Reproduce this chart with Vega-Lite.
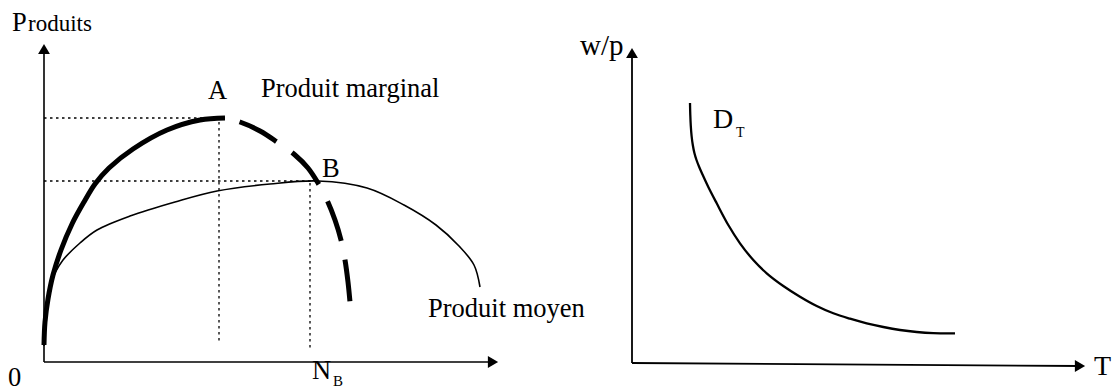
{
  "$schema": "https://vega.github.io/schema/vega-lite/v6.json",
  "background": "white",
  "padding": 0,
  "spacing": 0,
  "bounds": "flush",
  "config": {"view": {"stroke": null}, "axis": {"disable": true}, "concat": {"spacing": 0}},
  "datasets": {
    "axesL": [{"n": 0, "v": 0, "n2": 449, "v2": 0}, {"n": 0, "v": 0, "n2": 0, "v2": 313}],
    "arrowsL": [{"n": 449, "v": 0, "dir": "right"}, {"n": 0, "v": 313, "dir": "up"}],
    "guidesL": [
      {"n": 0, "v": 244, "n2": 178, "v2": 244},
      {"n": 175, "v": 240, "n2": 175, "v2": 19},
      {"n": 0, "v": 181, "n2": 274, "v2": 181},
      {"n": 266, "v": 179, "n2": 266, "v2": 12}
    ],
    "average": [
      {"n": 0, "v": 16}, {"n": 2, "v": 47}, {"n": 6, "v": 77}, {"n": 11, "v": 89},
      {"n": 19, "v": 102}, {"n": 36, "v": 119}, {"n": 53, "v": 132}, {"n": 86, "v": 146},
      {"n": 131, "v": 160}, {"n": 173, "v": 171}, {"n": 226, "v": 178}, {"n": 274, "v": 181},
      {"n": 323, "v": 174}, {"n": 360, "v": 157}, {"n": 392, "v": 137}, {"n": 415, "v": 116},
      {"n": 430, "v": 97}, {"n": 436, "v": 75}
    ],
    "mRise": [
      {"n": 0, "v": 17}, {"n": 1, "v": 40}, {"n": 4, "v": 63}, {"n": 9, "v": 87},
      {"n": 17, "v": 112}, {"n": 28, "v": 138}, {"n": 40, "v": 160}, {"n": 51, "v": 178},
      {"n": 65, "v": 194}, {"n": 89, "v": 213}, {"n": 123, "v": 232}, {"n": 156, "v": 242},
      {"n": 181, "v": 244}
    ],
    "mFall": [
      {"n": 181, "v": 244}, {"n": 196, "v": 240}, {"n": 216, "v": 231}, {"n": 233, "v": 220},
      {"n": 251, "v": 207}, {"n": 264, "v": 194}, {"n": 274, "v": 179}, {"n": 283, "v": 162},
      {"n": 291, "v": 142}, {"n": 297, "v": 122}, {"n": 301, "v": 102}, {"n": 304, "v": 80},
      {"n": 306, "v": 60}
    ],
    "textL": [
      {"t": "P", "n": -32, "v": 331}, {"t": "0", "n": -36, "v": -24}, {"t": "A", "n": 164, "v": 263},
      {"t": "Produit marginal", "n": 217, "v": 265}, {"t": "B", "n": 278, "v": 185},
      {"t": "Produit moyen", "n": 384, "v": 45}, {"t": "N", "n": 268, "v": -17}
    ],
    "textLmid": [{"t": "roduits", "n": -16, "v": 331}],
    "textLsub": [{"t": "B", "n": 289, "v": -24}],
    "axesR": [{"T": 0, "w": 0, "T2": 448, "w2": -3}, {"T": 0, "w": 0, "T2": 0, "w2": 310}],
    "arrowsR": [{"T": 448, "w": -3, "dir": "right"}, {"T": 0, "w": 310, "dir": "up"}],
    "demand": [
      {"T": 58, "w": 260}, {"T": 58.3, "w": 248}, {"T": 58.8, "w": 237}, {"T": 59.6, "w": 227},
      {"T": 60.8, "w": 218}, {"T": 62.4, "w": 210}, {"T": 64.5, "w": 203}, {"T": 67.2, "w": 196},
      {"T": 70.5, "w": 188.5}, {"T": 76.3, "w": 176}, {"T": 84.7, "w": 159.7},
      {"T": 96.3, "w": 138}, {"T": 108, "w": 119.7}, {"T": 121.3, "w": 103}, {"T": 134.7, "w": 89.7},
      {"T": 151.3, "w": 77}, {"T": 168, "w": 66.3}, {"T": 184.7, "w": 57}, {"T": 201.3, "w": 49.7},
      {"T": 218, "w": 44.3}, {"T": 234.7, "w": 39.7}, {"T": 251.3, "w": 36}, {"T": 268, "w": 33},
      {"T": 284.7, "w": 31}, {"T": 301.3, "w": 29.9}, {"T": 323, "w": 29.7}
    ],
    "textR": [{"t": "T", "T": 462, "w": -12}, {"t": "D", "T": 81, "w": 235}],
    "textRwp": [{"t": "w/p", "T": -52, "w": 308}],
    "textRsub": [{"t": "T", "T": 104, "w": 226}]
  },
  "hconcat": [
    {
      "width": 560,
      "height": 391,
      "encoding": {
        "x": {"field": "n", "type": "quantitative", "scale": {"domain": [-44, 516], "nice": false, "zero": false}},
        "y": {"field": "v", "type": "quantitative", "scale": {"domain": [-29, 362], "nice": false, "zero": false}}
      },
      "layer": [
        {"data": {"name": "axesL"}, "mark": {"type": "rule", "color": "black", "strokeWidth": 1.6},
         "encoding": {"x2": {"field": "n2"}, "y2": {"field": "v2"}}},
        {"data": {"name": "arrowsL"}, "mark": {"type": "point", "filled": true, "color": "black", "size": 140, "opacity": 1},
         "encoding": {"shape": {"field": "dir", "type": "nominal", "scale": {"domain": ["up", "right"], "range": ["triangle-up", "triangle-right"]}, "legend": null}}},
        {"data": {"name": "guidesL"}, "mark": {"type": "rule", "color": "black", "strokeWidth": 1.3, "strokeDash": [2.5, 3.5]},
         "encoding": {"x2": {"field": "n2"}, "y2": {"field": "v2"}}},
        {"data": {"name": "average"}, "mark": {"type": "line", "color": "black", "strokeWidth": 1.6, "interpolate": "catmull-rom"}},
        {"data": {"name": "mRise"}, "mark": {"type": "line", "color": "black", "strokeWidth": 5, "interpolate": "catmull-rom"}},
        {"data": {"name": "mFall"}, "mark": {"type": "line", "color": "black", "strokeWidth": 5, "interpolate": "catmull-rom", "strokeDash": [42, 19], "strokeDashOffset": 46}},
        {"data": {"name": "textL"}, "mark": {"type": "text", "font": "Liberation Serif", "fontSize": 26.5, "align": "left", "baseline": "alphabetic", "color": "black"},
         "encoding": {"text": {"field": "t"}}},
        {"data": {"name": "textLmid"}, "mark": {"type": "text", "font": "Liberation Serif", "fontSize": 23, "align": "left", "baseline": "alphabetic", "color": "black"},
         "encoding": {"text": {"field": "t"}}},
        {"data": {"name": "textLsub"}, "mark": {"type": "text", "font": "Liberation Serif", "fontSize": 15, "align": "left", "baseline": "alphabetic", "color": "black"},
         "encoding": {"text": {"field": "t"}}}
      ]
    },
    {
      "width": 553,
      "height": 391,
      "encoding": {
        "x": {"field": "T", "type": "quantitative", "scale": {"domain": [-72, 481], "nice": false, "zero": false}},
        "y": {"field": "w", "type": "quantitative", "scale": {"domain": [-28, 363], "nice": false, "zero": false}}
      },
      "layer": [
        {"data": {"name": "axesR"}, "mark": {"type": "rule", "color": "black", "strokeWidth": 1.8},
         "encoding": {"x2": {"field": "T2"}, "y2": {"field": "w2"}}},
        {"data": {"name": "arrowsR"}, "mark": {"type": "point", "filled": true, "color": "black", "size": 140, "opacity": 1},
         "encoding": {"shape": {"field": "dir", "type": "nominal", "scale": {"domain": ["up", "right"], "range": ["triangle-up", "triangle-right"]}, "legend": null}}},
        {"data": {"name": "demand"}, "mark": {"type": "line", "color": "black", "strokeWidth": 2.3, "interpolate": "catmull-rom"}},
        {"data": {"name": "textR"}, "mark": {"type": "text", "font": "Liberation Serif", "fontSize": 28, "align": "left", "baseline": "alphabetic", "color": "black"},
         "encoding": {"text": {"field": "t"}}},
        {"data": {"name": "textRwp"}, "mark": {"type": "text", "font": "Liberation Serif", "fontSize": 29, "align": "left", "baseline": "alphabetic", "color": "black"},
         "encoding": {"text": {"field": "t"}}},
        {"data": {"name": "textRsub"}, "mark": {"type": "text", "font": "Liberation Serif", "fontSize": 14, "align": "left", "baseline": "alphabetic", "color": "black"},
         "encoding": {"text": {"field": "t"}}}
      ]
    }
  ]
}
